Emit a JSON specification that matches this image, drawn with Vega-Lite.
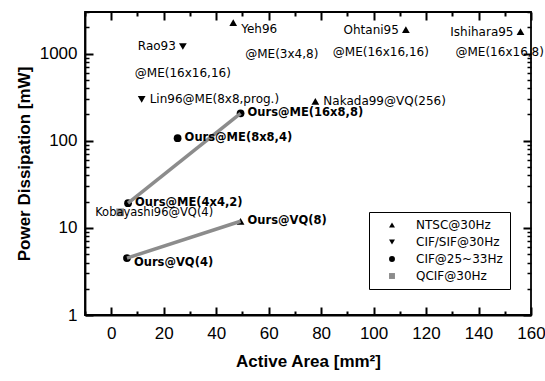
{
  "$schema": "https://vega.github.io/schema/vega-lite/v6.json",
  "width": 446,
  "height": 303,
  "autosize": "none",
  "padding": {"left": 85, "top": 12, "right": 14, "bottom": 66},
  "background": "white",
  "config": {
    "font": "Liberation Sans",
    "view": {"stroke": "black", "strokeWidth": 1.8},
    "axis": {"grid": false, "domainColor": "black", "domainWidth": 1.8, "tickColor": "black", "tickWidth": 2, "tickOpacity": 1, "labelColor": "black", "titleColor": "black", "labelFont": "Liberation Sans", "titleFont": "Liberation Sans"},
    "text": {"font": "DejaVu Sans", "color": "black"}
  },
  "datasets": {
    "pts": [
      {"name": "Yeh96", "area": 46.5, "power": 2270, "format": "NTSC@30Hz", "label": "Yeh96", "sub": "@ME(3x4,8)"},
      {"name": "Rao93", "area": 27.3, "power": 1206, "format": "CIF/SIF@30Hz", "label": "Rao93", "sub": "@ME(16x16,16)"},
      {"name": "Ohtani95", "area": 112.3, "power": 1888, "format": "NTSC@30Hz", "label": "Ohtani95", "sub": "@ME(16x16,16)"},
      {"name": "Ishihara95", "area": 156, "power": 1790, "format": "NTSC@30Hz", "label": "Ishihara95", "sub": "@ME(16x16,8)"},
      {"name": "Lin96", "area": 11.6, "power": 298, "format": "CIF/SIF@30Hz", "label": "Lin96@ME(8x8,prog.)"},
      {"name": "Nakada99", "area": 77.8, "power": 283, "format": "NTSC@30Hz", "label": "Nakada99@VQ(256)"},
      {"name": "OursME16", "area": 49.3, "power": 206, "format": "CIF@25~33Hz", "label": "Ours@ME(16x8,8)", "series": "ME"},
      {"name": "OursME8", "area": 25.3, "power": 107, "format": "CIF@25~33Hz", "label": "Ours@ME(8x8,4)"},
      {"name": "OursME4", "area": 6.4, "power": 19.2, "format": "CIF@25~33Hz", "label": "Ours@ME(4x4,2)", "series": "ME"},
      {"name": "Kobayashi96", "area": 3.4, "power": 15.1, "format": "QCIF@30Hz", "label": "Kobayashi96@VQ(4)"},
      {"name": "OursVQ8", "area": 49.3, "power": 11.9, "format": "NTSC@30Hz", "label": "Ours@VQ(8)", "series": "VQ"},
      {"name": "OursVQ4", "area": 6.0, "power": 4.5, "format": "CIF@25~33Hz", "label": "Ours@VQ(4)", "series": "VQ"}
    ]
  },
  "data": {"name": "pts"},
  "layer": [
    {
      "mark": {"type": "point", "filled": true, "size": 60, "opacity": 1},
      "encoding": {
        "x": {"field": "area", "type": "quantitative", "scale": {"domain": [-10, 160], "nice": false, "zero": false},
          "axis": {"orient": "bottom", "values": [0, 20, 40, 60, 80, 100, 120, 140, 160], "ticks": false, "labelPadding": 10, "labelFontSize": 17, "labelFlush": false, "format": "d", "title": "Active Area [mm²]", "titleFontSize": 17, "titleFontWeight": "bold", "titlePadding": 12}},
        "y": {"field": "power", "type": "quantitative", "scale": {"type": "log", "domain": [1, 3000], "nice": false},
          "axis": {"orient": "left", "values": [1, 10, 100, 1000], "ticks": false, "labelPadding": 8, "labelFontSize": 17, "labelFlush": false, "format": "d", "title": "Power Dissipation [mW]", "titleFontSize": 17, "titleFontWeight": "bold", "titlePadding": 6}},
        "shape": {"field": "format", "type": "nominal",
          "scale": {"domain": ["NTSC@30Hz", "CIF/SIF@30Hz", "CIF@25~33Hz", "QCIF@30Hz"], "range": ["triangle-up", "triangle-down", "circle", "square"]},
          "legend": {"title": null, "orient": "none", "legendX": 284, "legendY": 200, "strokeColor": "black", "fillColor": "white", "padding": 7, "symbolOffset": 10, "symbolSize": 35, "labelFontSize": 12, "labelFont": "DejaVu Sans", "labelColor": "black", "labelOffset": 18, "rowPadding": 5}},
        "color": {"field": "format", "type": "nominal",
          "scale": {"domain": ["NTSC@30Hz", "CIF/SIF@30Hz", "CIF@25~33Hz", "QCIF@30Hz"], "range": ["black", "black", "black", "#8c8c8c"]},
          "legend": {"title": null, "orient": "none", "legendX": 284, "legendY": 200}}
      }
    },
    {
      "transform": [{"filter": "isValid(datum.series)"}],
      "mark": {"type": "line", "color": "#8c8c8c", "strokeWidth": 3.5},
      "encoding": {
        "x": {"field": "area", "type": "quantitative",
          "axis": {"orient": "bottom", "values": [0, 20, 40, 60, 80, 100, 120, 140, 160], "offset": -8, "tickSize": 8, "ticks": true, "tickColor": "black", "tickWidth": 2, "labels": false, "domain": false, "title": null}},
        "y": {"field": "power", "type": "quantitative",
          "axis": {"orient": "left", "values": [1, 10, 100, 1000], "offset": -8, "tickSize": 8, "ticks": true, "tickColor": "black", "tickWidth": 2, "labels": false, "domain": false, "title": null}},
        "detail": {"field": "series"}
      }
    },
    {
      "transform": [{"filter": {"field": "name", "oneOf": ["Lin96", "Nakada99"]}}],
      "mark": {"type": "text", "align": "left", "baseline": "middle", "dx": 8, "fontSize": 12},
      "encoding": {
        "x": {"field": "area", "type": "quantitative",
          "axis": {"orient": "bottom", "values": [-10, 10, 30, 50, 70, 90, 110, 130, 150], "offset": -4, "tickSize": 4, "ticks": true, "tickColor": "black", "tickWidth": 2, "labels": false, "domain": false, "title": null}},
        "y": {"field": "power", "type": "quantitative",
          "axis": {"orient": "left", "values": [2, 3, 4, 5, 6, 7, 8, 9, 20, 30, 40, 50, 60, 70, 80, 90, 200, 300, 400, 500, 600, 700, 800, 900, 2000, 3000], "offset": -4, "tickSize": 4, "ticks": true, "tickColor": "black", "tickWidth": 1.5, "labels": false, "domain": false, "title": null}},
        "text": {"field": "label"}
      }
    },
    {
      "transform": [{"filter": {"field": "name", "oneOf": ["OursME16", "OursME8", "OursME4", "OursVQ8"]}}],
      "mark": {"type": "text", "align": "left", "baseline": "middle", "dx": 7, "fontSize": 11.5, "fontWeight": "bold"},
      "encoding": {
        "x": {"field": "area", "type": "quantitative",
          "axis": {"orient": "top", "values": [0, 20, 40, 60, 80, 100, 120, 140, 160], "offset": -8, "tickSize": 8, "ticks": true, "tickColor": "black", "tickWidth": 2, "labels": false, "domain": false, "title": null}},
        "y": {"field": "power", "type": "quantitative",
          "axis": {"orient": "right", "values": [1, 10, 100, 1000], "offset": -8, "tickSize": 8, "ticks": true, "tickColor": "black", "tickWidth": 2, "labels": false, "domain": false, "title": null}},
        "text": {"field": "label"}
      }
    },
    {
      "transform": [{"filter": {"field": "name", "oneOf": ["OursVQ4"]}}],
      "mark": {"type": "text", "align": "left", "baseline": "middle", "dx": 7, "dy": 5, "fontSize": 11.5, "fontWeight": "bold"},
      "encoding": {
        "x": {"field": "area", "type": "quantitative",
          "axis": {"orient": "top", "values": [-10, 10, 30, 50, 70, 90, 110, 130, 150], "offset": -4, "tickSize": 4, "ticks": true, "tickColor": "black", "tickWidth": 2, "labels": false, "domain": false, "title": null}},
        "y": {"field": "power", "type": "quantitative",
          "axis": {"orient": "right", "values": [2, 3, 4, 5, 6, 7, 8, 9, 20, 30, 40, 50, 60, 70, 80, 90, 200, 300, 400, 500, 600, 700, 800, 900, 2000, 3000], "offset": -4, "tickSize": 4, "ticks": true, "tickColor": "black", "tickWidth": 1.5, "labels": false, "domain": false, "title": null}},
        "text": {"field": "label"}
      }
    },
    {
      "transform": [{"filter": {"field": "name", "oneOf": ["Kobayashi96"]}}],
      "mark": {"type": "text", "align": "left", "baseline": "middle", "dx": -25, "dy": 1, "fontSize": 11.5},
      "encoding": {
        "x": {"field": "area", "type": "quantitative", "axis": null},
        "y": {"field": "power", "type": "quantitative", "axis": null},
        "text": {"field": "label"}
      }
    },
    {
      "transform": [{"filter": {"field": "name", "oneOf": ["Yeh96"]}}],
      "mark": {"type": "text", "align": "left", "baseline": "middle", "dx": 8, "dy": 6, "fontSize": 12},
      "encoding": {
        "x": {"field": "area", "type": "quantitative", "axis": null},
        "y": {"field": "power", "type": "quantitative", "axis": null},
        "text": {"field": "label"}
      }
    },
    {
      "transform": [{"filter": {"field": "name", "oneOf": ["Rao93", "Ohtani95", "Ishihara95"]}}],
      "mark": {"type": "text", "align": "right", "baseline": "middle", "dx": -7, "fontSize": 12},
      "encoding": {
        "x": {"field": "area", "type": "quantitative", "axis": null},
        "y": {"field": "power", "type": "quantitative", "axis": null},
        "text": {"field": "label"}
      }
    },
    {
      "transform": [{"filter": {"field": "name", "oneOf": ["Yeh96"]}}],
      "mark": {"type": "text", "align": "left", "baseline": "middle", "dx": 12, "dy": 31, "fontSize": 12},
      "encoding": {
        "x": {"field": "area", "type": "quantitative", "axis": null},
        "y": {"field": "power", "type": "quantitative", "axis": null},
        "text": {"field": "sub"}
      }
    },
    {
      "transform": [{"filter": {"field": "name", "oneOf": ["Rao93"]}}],
      "mark": {"type": "text", "align": "left", "baseline": "middle", "dx": -48, "dy": 27, "fontSize": 12},
      "encoding": {
        "x": {"field": "area", "type": "quantitative", "axis": null},
        "y": {"field": "power", "type": "quantitative", "axis": null},
        "text": {"field": "sub"}
      }
    },
    {
      "transform": [{"filter": {"field": "name", "oneOf": ["Ohtani95"]}}],
      "mark": {"type": "text", "align": "left", "baseline": "middle", "dx": -73, "dy": 22, "fontSize": 12},
      "encoding": {
        "x": {"field": "area", "type": "quantitative", "axis": null},
        "y": {"field": "power", "type": "quantitative", "axis": null},
        "text": {"field": "sub"}
      }
    },
    {
      "transform": [{"filter": {"field": "name", "oneOf": ["Ishihara95"]}}],
      "mark": {"type": "text", "align": "left", "baseline": "middle", "dx": -65, "dy": 20, "fontSize": 12},
      "encoding": {
        "x": {"field": "area", "type": "quantitative", "axis": null},
        "y": {"field": "power", "type": "quantitative", "axis": null},
        "text": {"field": "sub"}
      }
    }
  ],
  "resolve": {"axis": {"x": "independent", "y": "independent"}}
}
